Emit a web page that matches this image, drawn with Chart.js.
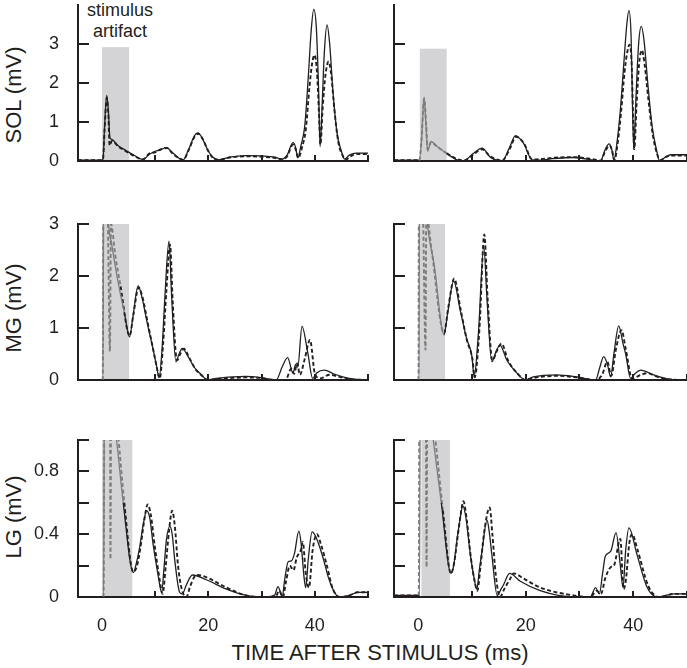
<!DOCTYPE html>
<html>
<head>
<meta charset="utf-8">
<script src="https://cdn.jsdelivr.net/npm/chart.js@4.4.1/dist/chart.umd.min.js"></script>
<style>
	html, body { margin: 0; padding: 0; background: #fff; }
	body { width: 687px; height: 668px; position: relative; overflow: hidden; font-family: 'Liberation Sans', Arial, sans-serif; color: #231f20; }
	canvas { position: absolute; }
	.label { position: absolute; white-space: nowrap; }
	.ytitle { font-size: 22px; transform: translate(-50%, -50%) rotate(-90deg); }
	.xtitle { font-size: 22px; transform: translate(-50%, -50%); }
	.note { font-size: 18px; line-height: 21px; text-align: center; transform: translateX(-50%); }
</style>
</head>
<body>
<div class="label note" style="left:120px; top:0px;">stimulus<br>artifact</div>
<div class="label ytitle" style="left:14px; top:95px;">SOL (mV)</div>
<div class="label ytitle" style="left:14px; top:308px;">MG (mV)</div>
<div class="label ytitle" style="left:14px; top:517px;">LG (mV)</div>
<div class="label xtitle" style="left:380px; top:653px;">TIME AFTER STIMULUS (ms)</div>

<script>
// Data: [time after stimulus (ms), amplitude (mV)]
const solLeftSolid = [[-4.5,0.02],[-0.3,0.02],[0.2,0.05],[0.5,0.9],[0.9,1.68],[1.2,1.3],[1.5,0.6],[1.9,0.55],[3,0.4],[4.5,0.27],[6,0.15],[7.7,0.04],[9,0.18],[10,0.25],[11,0.28],[12.1,0.35],[13,0.25],[14.2,0.1],[15.2,0.02],[16.3,0.3],[17.4,0.65],[18,0.72],[18.8,0.6],[20,0.25],[21,0.08],[22,0.03],[24,0.1],[27,0.14],[30,0.13],[32.5,0.1],[33.8,0.05],[34.8,0.15],[35.9,0.47],[36.4,0.35],[36.8,0.08],[37.4,0.4],[38.1,0.88],[38.8,2.2],[39.3,3.3],[39.8,3.89],[40.3,3.4],[40.7,1.9],[41,0.37],[41.4,1.5],[41.8,2.8],[42.3,3.49],[42.8,3.0],[43.4,1.8],[44.2,0.7],[45,0.25],[45.6,0.05],[46.5,0.15],[47.8,0.2],[50,0.2]];
const solLeftDashed = [[-4.5,0.02],[-0.2,0.02],[0.2,0.05],[0.5,0.8],[0.9,1.62],[1.2,1.2],[1.45,0.4],[1.9,0.52],[3,0.38],[4.5,0.25],[6,0.13],[7.7,0.04],[9,0.2],[10,0.22],[11,0.3],[12.3,0.33],[13.2,0.2],[14.5,0.07],[15.3,0.03],[16.3,0.28],[17.4,0.62],[18.1,0.7],[18.9,0.57],[20,0.25],[21,0.06],[22,0.03],[24,0.09],[27,0.12],[30,0.11],[32.5,0.08],[33.8,0.04],[34.8,0.12],[35.9,0.42],[36.4,0.3],[36.9,0.08],[37.6,0.35],[38.3,0.8],[39,1.9],[39.5,2.5],[39.95,2.72],[40.4,2.3],[40.8,1.2],[41.05,0.42],[41.5,1.4],[42,2.2],[42.6,2.55],[43.1,2.2],[43.7,1.3],[44.4,0.5],[45.2,0.15],[45.8,0.03],[46.7,0.12],[48,0.18],[50,0.18]];
const solRightSolid = [[-4.5,0.02],[0.2,0.02],[0.6,0.5],[1.1,1.64],[1.45,0.9],[1.75,0.25],[2.4,0.5],[3.5,0.38],[5.3,0.19],[7.2,0.03],[8.4,0],[10.3,0.2],[11.9,0.33],[13.4,0.1],[15.6,0],[17,0.35],[18.1,0.65],[19.6,0.45],[21.2,0.03],[22.7,0.02],[25,0.06],[29,0.09],[32.7,0.02],[33.9,0],[34.8,0.3],[35.5,0.44],[36,0.3],[36.4,0.02],[37,0.5],[37.6,1.3],[38.3,2.6],[38.8,3.5],[39.2,3.86],[39.6,3.2],[39.9,1.2],[40.1,0.3],[40.5,1.6],[41,3.0],[41.5,3.45],[42,3.1],[42.7,2.0],[43.5,0.9],[44.3,0.3],[44.9,0],[46,0.1],[47,0.16],[50,0.16]];
const solRightDashed = [[-4.5,0.02],[0.2,0.02],[0.6,0.5],[1.1,1.6],[1.5,0.9],[1.75,0.3],[2.4,0.48],[3.5,0.37],[5.3,0.2],[7.2,0.05],[8.4,0.01],[10.3,0.17],[11.9,0.3],[13.4,0.12],[15.6,0.01],[17,0.3],[18.2,0.62],[19.7,0.45],[21.2,0.04],[22.7,0.05],[25,0.08],[29,0.1],[32.7,0.04],[33.9,0.01],[34.8,0.25],[35.6,0.4],[36.1,0.25],[36.5,0.02],[37.1,0.45],[37.7,1.2],[38.4,2.3],[38.9,2.8],[39.3,2.98],[39.7,2.5],[40,1.0],[40.2,0.3],[40.6,1.4],[41.1,2.5],[41.6,2.84],[42.1,2.5],[42.8,1.6],[43.6,0.7],[44.4,0.2],[45,0.02],[46,0.1],[47,0.14],[50,0.14]];
const mgLeftSolid = [[-4.5,0],[0.2,0],[0.35,5],[1.3,2.95],[1.8,2.63],[3,1.9],[4.2,1.3],[5.2,0.83],[5.8,1.2],[6.8,1.81],[7.5,1.6],[8.5,1.1],[9.6,0.6],[10.2,0.3],[10.75,0.05],[11.3,0.6],[11.8,1.54],[12.6,2.67],[13.1,1.6],[13.9,0.35],[14.5,0.5],[15.1,0.61],[16.2,0.45],[17.3,0.25],[18.4,0.13],[19.9,0],[21.5,0.03],[24.6,0.06],[27,0.07],[29.6,0.05],[32.75,0],[33.9,0.26],[34.9,0.43],[35.9,0.13],[36.4,0.3],[36.8,0.25],[37.6,1.03],[38.7,0.51],[39.6,0.03],[40.4,0.14],[41.8,0.19],[43.5,0.12],[45.25,0.06],[47,0.02],[50,0]];
const mgLeftDashed = [[-4.5,0],[0.15,0],[0.3,5],[1.1,3.1],[1.5,0.55],[1.7,3.0],[2.5,2.4],[3.5,1.8],[5.2,0.85],[5.9,1.25],[6.9,1.78],[7.6,1.6],[8.6,1.1],[9.7,0.55],[10.3,0.25],[10.85,0.03],[11.5,0.7],[12.1,1.7],[12.8,2.6],[13.3,1.5],[14.1,0.38],[14.8,0.52],[15.4,0.6],[16.4,0.43],[17.5,0.22],[18.6,0.1],[20,0],[21.5,0.02],[24.6,0.04],[27,0.05],[29.6,0.04],[32.75,0],[34.5,0],[35.6,0.22],[36.1,0.12],[36.7,0.32],[37.2,0.1],[38.1,0.4],[39.1,0.77],[40,0.13],[41,0.03],[42.75,0.1],[45,0.05],[47,0.01],[50,0]];
const mgRightSolid = [[-4.5,0],[0.15,0],[0.25,5],[1.7,3.0],[3,2.2],[4.8,0.87],[5.5,1.3],[6.6,1.9],[7.8,1.35],[9,0.8],[10,0.45],[10.4,0.06],[11.2,0.9],[12.2,2.57],[12.8,1.55],[13.7,0.35],[14.5,0.55],[15.2,0.67],[16.5,0.38],[18.4,0.13],[19.9,0],[21.4,0.06],[25.8,0.1],[29.5,0.06],[33,0],[33.8,0.25],[34.5,0.45],[35.2,0.3],[35.8,0.06],[36.4,0.5],[37.3,1.04],[38.1,0.7],[38.6,0.5],[39.5,0.03],[40.3,0.12],[41.4,0.19],[43.8,0.1],[47,0.01],[50,0]];
const mgRightDashed = [[-4.5,0],[0.05,0],[0.15,5],[0.9,3.2],[1.36,0.58],[1.5,3.2],[2.5,2.5],[4.8,0.9],[5.6,1.4],[6.7,1.95],[7.9,1.35],[9.1,0.75],[10.1,0.4],[10.5,0.05],[11.4,1.0],[12.3,2.8],[12.9,1.6],[13.8,0.38],[14.8,0.6],[15.5,0.7],[16.7,0.38],[18.5,0.12],[20,0],[21.5,0.04],[25.8,0.08],[29.5,0.05],[33,0],[34.2,0.1],[35.2,0.35],[35.9,0.08],[36.8,0.6],[37.8,0.96],[38.6,0.6],[39.8,0.02],[41,0.08],[42.6,0.13],[44.5,0.06],[47,0.01],[50,0]];
const lgLeftSolid = [[-4.5,0],[0.3,0],[0.5,1.6],[2.75,1.0],[4,0.6],[5.9,0.155],[6.5,0.22],[7.1,0.32],[7.8,0.47],[8.4,0.55],[9,0.5],[9.6,0.34],[10.6,0.13],[11.2,0.03],[11.7,0.2],[12.1,0.36],[12.75,0.45],[13.2,0.4],[13.7,0.23],[14.6,0.03],[15.1,0.02],[15.9,0.08],[17,0.14],[19.6,0.11],[23.4,0.05],[27.1,0.01],[30.9,0],[32.4,0.01],[33.1,0.066],[33.9,0],[34.3,0.1],[35,0.225],[35.6,0.23],[36.2,0.28],[37,0.42],[37.4,0.35],[38,0.12],[38.3,0.06],[38.8,0.25],[39.5,0.415],[40.1,0.39],[40.9,0.32],[41.8,0.22],[42.5,0.13],[43.4,0.05],[44.5,0],[46.5,0.01],[48,0.03],[50,0.03]];
const lgLeftDashed = [[-4.5,0],[0.3,0],[0.5,1.6],[1.5,1.5],[1.6,0.24],[1.75,1.5],[3,1.05],[4.2,0.6],[5.9,0.16],[6.6,0.2],[7.3,0.33],[8,0.5],[8.6,0.59],[9.2,0.52],[9.9,0.33],[10.8,0.12],[11.4,0.02],[12,0.2],[12.6,0.42],[13.2,0.55],[13.7,0.45],[14.3,0.2],[15,0.05],[15.9,0],[16.5,0.06],[17.4,0.13],[18,0.14],[20,0.12],[23.4,0.06],[27.1,0.01],[30.9,0],[32.6,0],[33.3,0.04],[34,0],[34.6,0.1],[35.3,0.2],[36,0.17],[36.6,0.25],[37.4,0.3],[37.75,0.35],[38.3,0.15],[38.9,0.06],[39.6,0.3],[40.4,0.4],[41.2,0.33],[42.2,0.21],[43.4,0.05],[44.8,0],[46.5,0.01],[48,0.03],[50,0.03]];
const lgRightSolid = [[-4.5,0.01],[0.25,0.01],[0.4,1.6],[2.8,1.0],[4.3,0.6],[6.1,0.15],[6.6,0.2],[7.2,0.36],[7.8,0.5],[8.3,0.58],[8.9,0.5],[9.7,0.27],[10.4,0.12],[10.9,0.05],[11.4,0.18],[11.9,0.3],[12.8,0.49],[13.2,0.42],[13.7,0.27],[14.7,0.01],[15.4,0.05],[15.9,0.08],[17,0.15],[19,0.1],[22.7,0.04],[28.9,0],[32,0],[33,0.06],[33.7,0.02],[34.3,0.15],[34.8,0.26],[35.8,0.29],[36.8,0.41],[37.6,0.2],[38.1,0.06],[38.6,0.3],[39.2,0.44],[40.7,0.27],[42.6,0.06],[44.5,0],[47.6,0.02],[50,0.02]];
const lgRightDashed = [[-4.5,0.01],[0.1,0.01],[0.25,1.6],[1.4,1.4],[1.55,0.19],[1.7,1.4],[3.2,1.0],[4.6,0.55],[6.1,0.15],[6.7,0.22],[7.4,0.4],[8.1,0.57],[8.4,0.61],[9,0.5],[9.8,0.25],[10.5,0.1],[11,0.04],[11.6,0.2],[12.3,0.42],[13.3,0.57],[13.8,0.4],[14.4,0.15],[15.2,0],[16,0.05],[17,0.11],[17.8,0.15],[19.5,0.12],[22.7,0.06],[28.9,0.01],[32,0],[33.2,0.04],[34,0.02],[34.8,0.12],[35.8,0.19],[36.4,0.2],[37.6,0.37],[38.2,0.05],[38.6,0.1],[39.3,0.35],[39.8,0.4],[40.8,0.3],[42.8,0.07],[44.8,0],[47.6,0.02],[50,0.02]];

// Panels in reading order: SOL L/R, MG L/R, LG L/R
const panelSeries = [
	[solLeftSolid, solLeftDashed], [solRightSolid, solRightDashed],
	[mgLeftSolid, mgLeftDashed], [mgRightSolid, mgRightDashed],
	[lgLeftSolid, lgLeftDashed], [lgRightSolid, lgRightDashed],
];

// Stimulus artifact window per panel (ms, ms, mV) and whether the trace is greyed there
const artifactFrom = [0, 0.3, 0, 0.15, 0, 0.6];
const artifactTo = [5.1, 5.3, 5.1, 5.0, 5.7, 5.9];
const artifactTop = [2.92, 2.88, 3, 3, 1, 1];
const greyTrace = [false, true, true, true, true, true];

// Axes per row
const yMax = [4, 3, 1];
const yTickMarks = [[1, 2, 3], [1, 2, 3], [0.2, 0.4, 0.6, 0.8, 1]];
const yTickLabels = [[0, 1, 2, 3], [0, 1, 2, 3], [0, 0.4, 0.8]];
const xTickMarks = [10, 20, 30, 40, 50];
const xTickLabels = [0, 20, 40];
const xRange = [-4.5, 50];

// Layout (px)
const INK = '#231f20';
const GREY_TRACE = '#7d7d7d';
const BOX = '#d4d4d6';
const FONT = "'Liberation Sans', Arial, sans-serif";
const colLeft = [0, 350], colWidth = [372, 337], yAxisWidth = [78, 44], padRight = [4, 0];
const rowTop = [0, 212, 428], padTop = [5, 12, 12], plotHeight = [156, 156, 157], xAxisHeight = [14, 14, 40];

const artifactBox = {
	id: 'artifactBox',
	beforeDraw(chart, args, opts) {
		const { ctx, scales } = chart;
		const l = scales.x.getPixelForValue(opts.from);
		const r = scales.x.getPixelForValue(opts.to);
		const t = scales.y.getPixelForValue(opts.top);
		const b = scales.y.getPixelForValue(0);
		ctx.save();
		ctx.fillStyle = BOX;
		ctx.fillRect(l, t, r - l, b - t);
		ctx.restore();
	},
};

const inwardTicks = {
	id: 'inwardTicks',
	afterDatasetsDraw(chart, args, opts) {
		const { ctx, chartArea, scales } = chart;
		ctx.save();
		ctx.strokeStyle = INK;
		ctx.lineWidth = 2;
		ctx.beginPath();
		opts.yMarks.forEach((v) => {
			const y = Math.round(scales.y.getPixelForValue(v));
			ctx.moveTo(chartArea.left, y);
			ctx.lineTo(chartArea.left + 11, y);
		});
		opts.xMarks.forEach((v) => {
			const x = Math.round(scales.x.getPixelForValue(v));
			ctx.moveTo(x, chartArea.bottom);
			ctx.lineTo(x, chartArea.bottom - 6);
		});
		ctx.stroke();
		ctx.restore();
	},
};

function toPoints(pairs) {
	return pairs.map(([x, y]) => ({ x, y }));
}

function traceDataset(pairs, i, dashed) {
	const colorAt = (ctx) => {
		if (!greyTrace[i]) return INK;
		const a = ctx.p0.parsed.x, b = ctx.p1.parsed.x;
		return a >= artifactFrom[i] - 0.5 && b <= artifactTo[i] + 0.05 ? GREY_TRACE : INK;
	};
	return {
		data: toPoints(pairs),
		borderColor: INK,
		borderWidth: dashed ? 1.9 : 1.3,
		borderDash: dashed ? [4, 2.5] : [],
		pointRadius: 0,
		cubicInterpolationMode: 'monotone',
		segment: { borderColor: colorAt },
	};
}

function makePanel(i) {
	const row = Math.floor(i / 2), col = i % 2;
	const canvas = document.createElement('canvas');
	const w = colWidth[col];
	const h = padTop[row] + plotHeight[row] + xAxisHeight[row];
	canvas.width = w;
	canvas.height = h;
	canvas.style.left = colLeft[col] + 'px';
	canvas.style.top = rowTop[row] + 'px';
	canvas.style.width = w + 'px';
	canvas.style.height = h + 'px';
	document.body.appendChild(canvas);

	const [solid, dashed] = panelSeries[i];
	new Chart(canvas, {
		type: 'line',
		data: { datasets: [traceDataset(solid, i, false), traceDataset(dashed, i, true)] },
		plugins: [artifactBox, inwardTicks],
		options: {
			responsive: false,
			animation: false,
			devicePixelRatio: 1,
			layout: { padding: { top: padTop[row], right: padRight[col], left: 0, bottom: 0 } },
			plugins: {
				legend: { display: false },
				tooltip: { enabled: false },
				artifactBox: { from: artifactFrom[i], to: artifactTo[i], top: artifactTop[i] },
				inwardTicks: { yMarks: yTickMarks[row], xMarks: xTickMarks },
			},
			scales: {
				x: {
					type: 'linear',
					min: xRange[0],
					max: xRange[1],
					grid: { display: false },
					border: { display: true, color: INK, width: 2 },
					ticks: {
						display: row === 2,
						color: INK,
						font: { family: FONT, size: 18 },
						padding: 10,
						maxRotation: 0,
						autoSkip: false,
					},
					afterBuildTicks: (s) => { s.ticks = xTickLabels.map((v) => ({ value: v })); },
					afterFit: (s) => { s.height = xAxisHeight[row]; s.paddingLeft = 0; s.paddingRight = 0; },
				},
				y: {
					type: 'linear',
					min: 0,
					max: yMax[row],
					grid: { display: false },
					border: { display: true, color: INK, width: 2 },
					ticks: {
						display: col === 0,
						color: INK,
						font: { family: FONT, size: 18 },
						padding: 11,
						callback: (v) => (yTickLabels[row].includes(v) ? String(v) : ''),
					},
					afterBuildTicks: (s) => { s.ticks = yTickLabels[row].map((v) => ({ value: v })); },
					afterFit: (s) => { s.width = yAxisWidth[col]; s.paddingTop = 0; s.paddingBottom = 0; },
				},
			},
		},
	});
}

for (let i = 0; i < panelSeries.length; i++) makePanel(i);
</script>
</body>
</html>
